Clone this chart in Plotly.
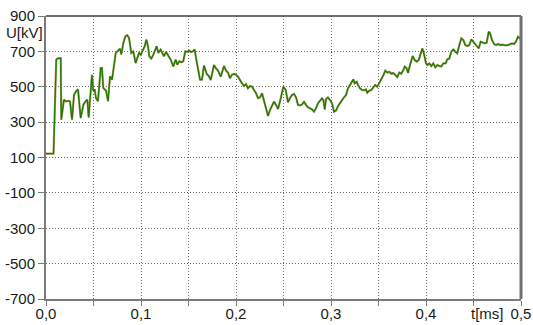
import plotly.graph_objects as go

# Voltage waveform, time in ms
t_ms = [0.0, 0.0079, 0.0108, 0.0121, 0.0155, 0.0161, 0.0189, 0.0207, 0.0242, 0.0253,
        0.0274, 0.0295, 0.0319, 0.0337, 0.0365, 0.0393, 0.0418, 0.0435, 0.0449, 0.0471,
        0.0484, 0.0498, 0.0513, 0.0526, 0.0547, 0.0576, 0.0589, 0.0603, 0.0632, 0.0653,
        0.0674, 0.0695, 0.0716, 0.0734, 0.0751, 0.0779, 0.0793, 0.0814, 0.0835, 0.0856,
        0.0874, 0.0898, 0.0919, 0.0944, 0.0961, 0.0979, 0.0997, 0.1018, 0.1039, 0.1056,
        0.1074, 0.1087, 0.1108, 0.1129, 0.1151, 0.1165, 0.1182, 0.1207, 0.1224, 0.1242,
        0.1263, 0.1284, 0.1313, 0.1340, 0.1365, 0.1382, 0.1403, 0.1424, 0.1445, 0.1466,
        0.1487, 0.1508, 0.1523, 0.1544, 0.1565, 0.1579, 0.1600, 0.1621, 0.1642, 0.1663,
        0.1692, 0.1713, 0.1734, 0.1755, 0.1768, 0.1789, 0.1811, 0.1839, 0.1860, 0.1874,
        0.1895, 0.1916, 0.1937, 0.1958, 0.1979, 0.2000, 0.2021, 0.2042, 0.2063, 0.2084,
        0.2105, 0.2126, 0.2147, 0.2168, 0.2189, 0.2211, 0.2232, 0.2253, 0.2274, 0.2295,
        0.2316, 0.2337, 0.2358, 0.2379, 0.2400, 0.2421, 0.2442, 0.2463, 0.2484, 0.2498,
        0.2523, 0.2547, 0.2568, 0.2589, 0.2611, 0.2632, 0.2653, 0.2674, 0.2695, 0.2716,
        0.2737, 0.2758, 0.2779, 0.2800, 0.2821, 0.2842, 0.2863, 0.2884, 0.2905, 0.2919,
        0.2934, 0.2947, 0.2968, 0.2989, 0.3011, 0.3032, 0.3053, 0.3074, 0.3095, 0.3116,
        0.3137, 0.3158, 0.3179, 0.3200, 0.3221, 0.3235, 0.3249, 0.3271, 0.3284, 0.3305,
        0.3326, 0.3347, 0.3368, 0.3382, 0.3403, 0.3424, 0.3445, 0.3466, 0.3487, 0.3508,
        0.3529, 0.3551, 0.3572, 0.3593, 0.3614, 0.3635, 0.3656, 0.3677, 0.3698, 0.3719,
        0.3740, 0.3761, 0.3776, 0.3797, 0.3811, 0.3832, 0.3845, 0.3860, 0.3881, 0.3902,
        0.3923, 0.3944, 0.3961, 0.3979, 0.4000, 0.4014, 0.4035, 0.4056, 0.4077, 0.4098,
        0.4119, 0.4140, 0.4161, 0.4182, 0.4207, 0.4224, 0.4245, 0.4266, 0.4287, 0.4308,
        0.4329, 0.4351, 0.4372, 0.4393, 0.4414, 0.4435, 0.4456, 0.4477, 0.4498, 0.4519,
        0.4540, 0.4555, 0.4576, 0.4597, 0.4618, 0.4639, 0.4660, 0.4674, 0.4695, 0.4716,
        0.4737, 0.4758, 0.4779, 0.4800, 0.4821, 0.4842, 0.4863, 0.4884, 0.4905, 0.4926,
        0.4947, 0.4968, 0.4989, 0.5000]

u_kv = [122, 122, 653, 660, 662, 314, 427, 418, 420, 415,
        314, 455, 476, 485, 323, 398, 418, 427, 327, 521,
        568, 476, 485, 436, 418, 606, 606, 493, 478, 418,
        559, 540, 625, 691, 700, 715, 683, 747, 785, 791,
        776, 691, 700, 634, 663, 691, 681, 710, 729, 766,
        729, 672, 659, 681, 710, 729, 691, 710, 691, 672,
        697, 681, 653, 615, 653, 625, 644, 638, 644, 700,
        697, 704, 697, 700, 710, 663, 597, 540, 540, 620,
        572, 561, 538, 595, 623, 604, 591, 557, 591, 617,
        591, 580, 548, 568, 572, 568, 557, 534, 519, 504,
        515, 491, 504, 500, 485, 463, 435, 440, 463, 416,
        369, 335, 369, 391, 416, 398, 374, 416, 463, 500,
        482, 412, 435, 453, 459, 440, 397, 395, 400, 414,
        397, 384, 378, 372, 359, 378, 406, 421, 435, 425,
        372, 429, 440, 425, 406, 359, 365, 391, 412, 425,
        440, 453, 491, 510, 534, 542, 519, 528, 510, 491,
        482, 480, 485, 466, 478, 481, 497, 510, 500, 519,
        542, 565, 591, 580, 585, 574, 578, 563, 555, 580,
        574, 595, 614, 604, 578, 623, 642, 674, 651, 642,
        651, 685, 717, 685, 632, 623, 632, 617, 632, 610,
        623, 617, 614, 632, 632, 655, 659, 698, 711, 698,
        689, 736, 774, 764, 736, 730, 736, 768, 755, 742,
        728, 717, 755, 749, 745, 749, 811, 802, 764, 742,
        736, 742, 736, 738, 734, 734, 736, 742, 745, 742,
        755, 783, 774, 779]

x_tickvals = [0.0, 0.1, 0.2, 0.3, 0.4, 0.5]
x_ticktext = ["0,0", "0,1", "0,2", "0,3", "0,4", "0,5"]
y_tickvals = [-700, -500, -300, -100, 100, 300, 500, 700, 900]
y_ticktext = ["-700", "-500", "-300", "-100", "100", "300", "500", "700", "900"]

FONT = "Liberation Sans, Arial, sans-serif"
GRID = "#6a6a6a"
GRID_DASH = "1px,2px"
AXIS = "#7a7a7a"
TEXT = "#1a1a1a"

fig = go.Figure()
# light olive halo under the green curve
fig.add_trace(go.Scatter(x=t_ms, y=u_kv, mode="lines",
                         line=dict(color="#b4a070", width=2.2), hoverinfo="skip"))
fig.add_trace(go.Scatter(x=t_ms, y=u_kv, mode="lines",
                         line=dict(color="#1c7c00", width=1.3)))

fig.update_layout(
    width=533, height=325,
    margin=dict(l=46, r=12, t=16, b=26),
    paper_bgcolor="white", plot_bgcolor="white",
    showlegend=False,
    font=dict(family=FONT, size=15, color=TEXT),
    xaxis=dict(
        range=[0, 0.5], tickvals=x_tickvals, ticktext=x_ticktext,
        showgrid=True, gridcolor=GRID, griddash=GRID_DASH, gridwidth=1,
        minor=dict(dtick=0.05, tick0=0, showgrid=True, gridcolor=GRID,
                   griddash=GRID_DASH, gridwidth=1, ticks="outside", ticklen=5,
                   tickcolor=AXIS),
        ticks="outside", ticklen=5, tickcolor=AXIS, ticklabelstandoff=-5,
        showline=True, linecolor=AXIS, linewidth=2,
        zeroline=False, automargin=False, tickfont=dict(size=15),
    ),
    yaxis=dict(
        range=[-700, 900], tickvals=y_tickvals, ticktext=y_ticktext,
        showgrid=True, gridcolor=GRID, griddash=GRID_DASH, gridwidth=1,
        ticks="outside", ticklen=6, tickcolor=AXIS,
        showline=True, linecolor=AXIS, linewidth=2,
        zeroline=False, automargin=False, tickfont=dict(size=15),
    ),
    shapes=[
        dict(type="line", xref="paper", yref="paper", x0=0, x1=1, y0=1, y1=1,
             line=dict(color="#404040", width=1.5)),
        dict(type="line", xref="paper", yref="paper", x0=1, x1=1, y0=0, y1=1,
             line=dict(color="#707070", width=3)),
    ],
    annotations=[
        dict(text="U[kV]", xref="paper", yref="y", x=0, y=805,
             xanchor="right", yanchor="middle", xshift=-1, showarrow=False,
             font=dict(size=15, family=FONT, color=TEXT)),
        dict(text="t[ms]", xref="x", yref="paper", x=0.5, y=0,
             xanchor="right", yanchor="middle", xshift=-15, yshift=-14,
             showarrow=False, font=dict(size=15, family=FONT, color=TEXT)),
    ],
)

fig.write_html("out.html")
